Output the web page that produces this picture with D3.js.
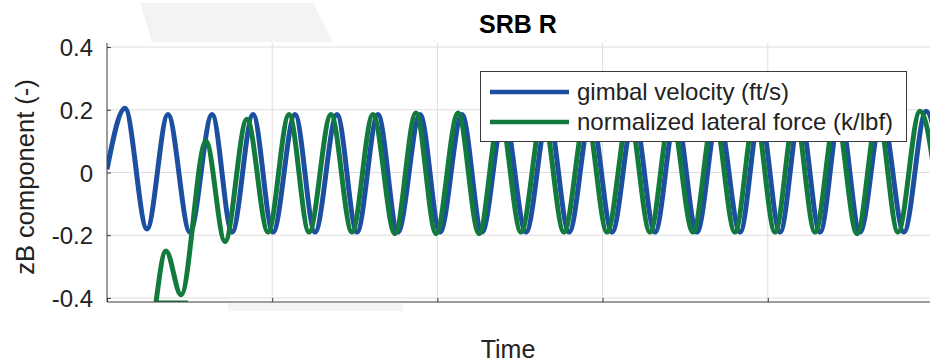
<!DOCTYPE html>
<html>
<head>
<meta charset="utf-8">
<script src="https://cdn.jsdelivr.net/npm/d3@7"></script>
<style>
  body { margin: 0; background: #fff; }
  svg { display: block; font-family: "Liberation Sans", Arial, sans-serif; }
  .grid line { stroke: #dedede; stroke-width: 1; }
  .axis path, .axis line { stroke: #3a3a3a; }
  .axis text { fill: #222; font-size: 24px; }
</style>
</head>
<body>
<div id="chart"></div>
<script>
// time in grid units, value in zB component (-)
var blueT = [0.000, 0.109, 0.242, 0.369, 0.502, 0.636, 0.757, 0.884, 1.005, 1.138, 1.259, 1.392, 1.513, 1.640, 1.761, 1.895, 2.016, 2.149, 2.270, 2.403, 2.536, 2.670, 2.797, 2.930, 3.057, 3.190, 3.317, 3.444, 3.571, 3.699, 3.832, 3.953, 4.074, 4.195, 4.316, 4.437, 4.558, 4.691, 4.824, 4.958, 5.091];
var blueV = [0.01, 0.205, -0.18, 0.185, -0.19, 0.185, -0.19, 0.185, -0.19, 0.185, -0.19, 0.185, -0.19, 0.185, -0.19, 0.185, -0.19, 0.185, -0.19, 0.185, -0.19, 0.185, -0.19, 0.185, -0.19, 0.185, -0.19, 0.185, -0.19, 0.185, -0.19, 0.185, -0.19, 0.185, -0.19, 0.185, -0.19, 0.185, -0.19, 0.195, -0.19];

var greenT = [0.297, 0.357, 0.448, 0.599, 0.714, 0.847, 0.975, 1.102, 1.223, 1.356, 1.483, 1.610, 1.743, 1.870, 1.992, 2.125, 2.252, 2.379, 2.506, 2.639, 2.766, 2.900, 3.027, 3.160, 3.287, 3.414, 3.547, 3.674, 3.801, 3.923, 4.044, 4.165, 4.286, 4.413, 4.540, 4.667, 4.788, 4.921, 5.054];
var greenV = [-0.48, -0.25, -0.39, 0.10, -0.22, 0.17, -0.19, 0.185, -0.19, 0.185, -0.19, 0.185, -0.195, 0.19, -0.195, 0.19, -0.195, 0.185, -0.19, 0.185, -0.19, 0.185, -0.19, 0.185, -0.19, 0.185, -0.19, 0.185, -0.19, 0.185, -0.19, 0.185, -0.19, 0.185, -0.195, 0.185, -0.19, 0.195, -0.19];

// stretch of the force trace below the lower limit (drawn on the limit)
var greenFloorT = [0.291, 0.490];
var greenFloorV = [-0.50, -0.50];

var yTicks = [-0.4, -0.2, 0, 0.2, 0.4];
var xTicks = [0, 1, 2, 3, 4, 5];
var seriesNames = ['gimbal velocity (ft/s)', 'normalized lateral force (k/lbf)'];
var seriesColors = ['#1c4f9f', '#127a3c'];

var width = 930, height = 362;
var mLeft = 107, mTop = 43, mBottom = 302, mRight = 933;

window.addEventListener('DOMContentLoaded', init);

function init() {

  var svg = d3.select('#chart').append('svg')
    .attr('width', width)
    .attr('height', height);

  // faint scan shading
  svg.append('polygon')
    .attr('points', '140,3 313,3 333,42 152,42')
    .style('fill', '#f3f3f3');
  svg.append('rect')
    .attr('x', 228).attr('y', 303).attr('width', 175).attr('height', 8)
    .style('fill', '#f5f5f5');

  var x = d3.scaleLinear().domain([0, 5]).range([mLeft, mRight]);
  var y = d3.scaleLinear().domain([-0.413, 0.413]).range([mBottom, mTop]).clamp(true);

  svg.append('defs').append('clipPath').attr('id', 'plotclip')
    .append('rect')
    .attr('x', mLeft).attr('y', mTop)
    .attr('width', mRight - mLeft).attr('height', mBottom - mTop);

  var grid = svg.append('g').attr('class', 'grid');
  grid.selectAll('line.gy')
    .data(yTicks)
    .enter().append('line')
    .attr('class', 'gy')
    .attr('x1', mLeft).attr('x2', mRight)
    .attr('y1', d => y(d)).attr('y2', d => y(d));
  grid.selectAll('line.gx')
    .data(xTicks.slice(1))
    .enter().append('line')
    .attr('class', 'gx')
    .attr('x1', d => x(d)).attr('x2', d => x(d))
    .attr('y1', mTop).attr('y2', mBottom);

  var line = d3.line()
    .x(d => x(d[0]))
    .y(d => y(d[1]))
    .curve(d3.curveMonotoneX);

  var plot = svg.append('g').attr('clip-path', 'url(#plotclip)');

  var blue = blueT.map((t, i) => [t, blueV[i]]);
  var green = greenT.map((t, i) => [t, greenV[i]]);
  var floor = greenFloorT.map((t, i) => [t, greenFloorV[i]]);

  plot.append('path')
    .attr('d', line(blue))
    .style('fill', 'none')
    .style('stroke', seriesColors[0])
    .style('stroke-width', 5)
    .style('stroke-linejoin', 'round');

  plot.append('path')
    .attr('d', d3.line().x(d => x(d[0])).y(d => y(d[1])).curve(d3.curveLinear)(floor))
    .style('fill', 'none')
    .style('stroke', seriesColors[1])
    .style('stroke-width', 3);

  plot.append('path')
    .attr('d', line(green))
    .style('fill', 'none')
    .style('stroke', seriesColors[1])
    .style('stroke-width', 5)
    .style('stroke-linejoin', 'round');

  // axes, matlab style ticks pointing inward
  svg.append('g')
    .attr('class', 'axis')
    .attr('transform', 'translate(' + mLeft + ',0)')
    .call(d3.axisLeft(y).tickValues(yTicks).tickSizeInner(-4).tickSizeOuter(0).tickPadding(14)
      .tickFormat(d => d === 0 ? '0' : d3.format('.1f')(d).replace('−', '-')))
    .call(g => g.select('.domain').attr('d', 'M0,' + mTop + 'V' + mBottom))
    .selectAll('text').attr('dy', '0.36em');

  svg.append('g')
    .attr('class', 'axis')
    .attr('transform', 'translate(0,' + mBottom + ')')
    .call(d3.axisBottom(x).tickValues(xTicks).tickSizeInner(-4).tickSizeOuter(0).tickFormat(''))
    .call(g => g.select('.domain').attr('d', 'M' + mLeft + ',0H' + width));

  // legend
  var legend = svg.append('g').attr('transform', 'translate(480,71)');
  legend.append('rect')
    .attr('x', 0.5).attr('y', 0.5)
    .attr('width', 426).attr('height', 70)
    .style('fill', '#fff')
    .style('stroke', '#3a3a3a')
    .style('stroke-width', 1);

  var items = legend.selectAll('g.item')
    .data(seriesNames)
    .enter().append('g')
    .attr('class', 'item')
    .attr('transform', (d, i) => 'translate(0,' + (21 + i * 30) + ')');
  items.append('line')
    .attr('x1', 10).attr('x2', 89)
    .style('stroke', (d, i) => seriesColors[i])
    .style('stroke-width', 4.5);
  items.append('text')
    .attr('x', 97).attr('dy', '0.35em')
    .style('font-size', '24px')
    .style('fill', '#222')
    .text(d => d);

  // labels
  svg.append('text')
    .attr('x', 518).attr('y', 33)
    .attr('text-anchor', 'middle')
    .style('font-size', '25px').style('font-weight', 'bold')
    .text('SRB R');

  svg.append('text')
    .attr('x', 508).attr('y', 358)
    .attr('text-anchor', 'middle')
    .style('font-size', '25px').style('fill', '#222')
    .text('Time');

  svg.append('text')
    .attr('transform', 'translate(34,177)rotate(-90)')
    .attr('text-anchor', 'middle')
    .style('font-size', '25.5px').style('fill', '#222')
    .text('zB component (-)');
}
</script>
</body>
</html>
